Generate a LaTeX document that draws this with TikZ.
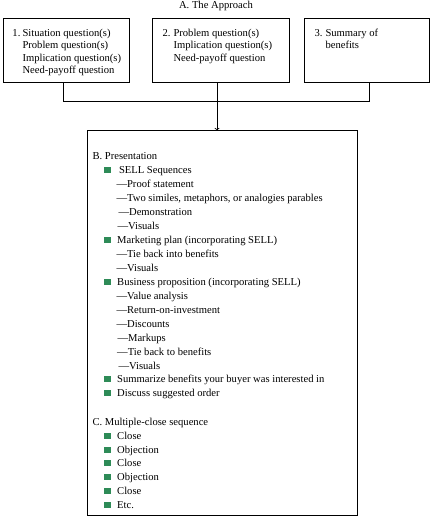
\documentclass[tikz,border=0pt]{standalone}
\usepackage{fontspec}
\setmainfont{Liberation Serif}
\usetikzlibrary{positioning}
\usetikzlibrary{arrows}
\definecolor{bulgreen}{RGB}{46,139,87}
\tikzset{frame/.style={rectangle,draw=black,line width=1pt,inner sep=0pt},
txt/.style={anchor=base west,inner sep=0pt,font=\fontsize{10.6}{12}\selectfont},
bul/.style={rectangle,fill=bulgreen,minimum width=7pt,minimum height=6pt,inner sep=0pt},
>={to}}

\begin{document}
\begin{tikzpicture}[x=1pt,y=-1pt,line width=1pt]
    \useasboundingbox (0,0) rectangle (433,518);

    % the approach
    \node (title) [txt, anchor=base] at (216,8.5) {A. The Approach};

    \node (box1) [frame, minimum width=126pt, minimum height=64pt] at (66,51) {};
    \node (box2) [frame, minimum width=137pt, minimum height=64pt] at (220.5,51) {};
    \node (box3) [frame, minimum width=125pt, minimum height=64pt] at (366.5,51) {};

    \node (n1) [txt] at (12,36.5) {1.};
    \node (sit) [txt] at (22,36.5) {Situation question(s)};
    \node (prob1) [txt] at (22,49) {Problem question(s)};
    \node (impl1) [txt] at (22,61.5) {Implication question(s)};
    \node (need1) [txt] at (22,74) {Need-payoff question};

    \node (n2) [txt] at (162,36.5) {2.};
    \node (prob2) [txt] at (173,36.5) {Problem question(s)};
    \node (impl2) [txt] at (173,49) {Implication question(s)};
    \node (need2) [txt] at (173,61.5) {Need-payoff question};

    \node (n3) [txt] at (314,36.5) {3.};
    \node (summ) [txt] at (325,36.5) {Summary of};
    \node (bene) [txt] at (325,49) {benefits};

    % presentation box
    \node (boxB) [frame, minimum width=270pt, minimum height=384pt] at (222,323) {};

    \node (b_pres) [txt] at (92,159.5) {B. Presentation};
    \node (bul_sell) [bul] at (107.5,170) {};
    \node (sell) [txt] at (118.5,173.5) {SELL Sequences};
    \node (proof) [txt] at (116,187.5) {—Proof statement};
    \node (two) [txt] at (116,201.5) {—Two similes, metaphors, or analogies parables};
    \node (demo) [txt] at (118,215.5) {—Demonstration};
    \node (vis1) [txt] at (117,229.5) {—Visuals};
    \node (bul_mark) [bul] at (107.5,240) {};
    \node (mark) [txt] at (116.7,243.5) {Marketing plan (incorporating SELL)};
    \node (tie1) [txt] at (116,257.5) {—Tie back into benefits};
    \node (vis2) [txt] at (116,271.5) {—Visuals};
    \node (bul_bus) [bul] at (107.5,282) {};
    \node (bus) [txt] at (116.7,285.5) {Business proposition (incorporating SELL)};
    \node (val) [txt] at (116,299.5) {—Value analysis};
    \node (roi) [txt] at (116,313.5) {—Return-on-investment};
    \node (disc) [txt] at (116,327) {—Discounts};
    \node (markup) [txt] at (117,341) {—Markups};
    \node (tie2) [txt] at (116.7,355) {—Tie back to benefits};
    \node (vis3) [txt] at (118,369) {—Visuals};
    \node (bul_sum) [bul] at (107.5,379) {};
    \node (sum) [txt] at (116.7,382.5) {Summarize benefits your buyer was interested in};
    \node (bul_ord) [bul] at (107.5,393) {};
    \node (ord) [txt] at (116.7,396.5) {Discuss suggested order};

    \node (c_close) [txt] at (92,425.5) {C. Multiple-close sequence};
    \node (bul_c1) [bul] at (107.5,436) {};
    \node (c1) [txt] at (116.7,439.5) {Close};
    \node (bul_o1) [bul] at (107.5,449.7) {};
    \node (o1) [txt] at (116.7,453.2) {Objection};
    \node (bul_c2) [bul] at (107.5,463.4) {};
    \node (c2) [txt] at (116.7,466.9) {Close};
    \node (bul_o2) [bul] at (107.5,477.1) {};
    \node (o2) [txt] at (116.7,480.6) {Objection};
    \node (bul_c3) [bul] at (107.5,490.8) {};
    \node (c3) [txt] at (116.7,494.3) {Close};
    \node (bul_etc) [bul] at (107.5,504.5) {};
    \node (etc) [txt] at (116.7,508) {Etc.};

    % connectors
    \coordinate (j1) at (63,102);
    \coordinate (j2) at (217,102);
    \coordinate (j3) at (369,102);

    \draw (box1.south -| j1) -- (j1) -- (j3) -- (box3.south -| j3);
    \draw (box2.south -| j2) -- (j2);
    \draw [->, line width=0.8pt] (j2) -- (j2 |- boxB.north);

  \end{tikzpicture}
\end{document}
